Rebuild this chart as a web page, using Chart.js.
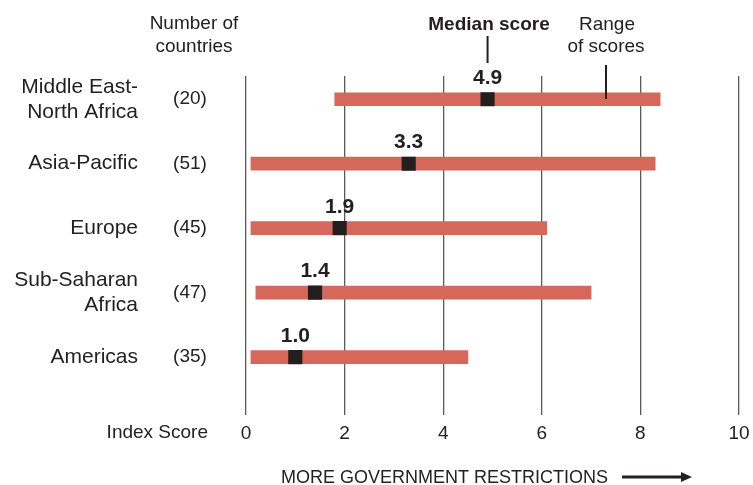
<!DOCTYPE html>
<html>
<head>
<meta charset="utf-8">
<script src="https://cdn.jsdelivr.net/npm/chart.js@4.4.1/dist/chart.umd.min.js"></script>
<style>
  html, body { margin: 0; padding: 0; background: #fff; }
  .chartBox { width: 753px; height: 485px; }
</style>
</head>
<body>
<div class="chartBox">
  <canvas id="myChart"></canvas>
</div>
<script>
// data
const regions = [["Middle East-", "North Africa"], ["Asia-Pacific"], ["Europe"], ["Sub-Saharan", "Africa"], ["Americas"]];
const countries = ["(20)", "(51)", "(45)", "(47)", "(35)"];
const rangeLow = [1.8, 0.1, 0.1, 0.2, 0.1];
const rangeHigh = [8.4, 8.3, 6.1, 7.0, 4.5];
const medians = [4.9, 3.3, 1.9, 1.4, 1.0];
const xTicks = [0, 2, 4, 6, 8, 10];

const FONT = "'Liberation Sans', Arial, sans-serif";
const INK = "#231f20";

// labels, headers and the arrow around the plot
const extras = {
  id: "extras",
  afterDatasetsDraw(chart) {
    const ctx = chart.ctx;
    const x = chart.scales.x;
    const y = chart.scales.y;
    ctx.save();
    ctx.textBaseline = "middle";

    // median values above the squares
    ctx.fillStyle = INK;
    ctx.font = "bold 21px " + FONT;
    ctx.textAlign = "center";
    medians.forEach((m, i) => {
      ctx.fillText(m.toFixed(1), x.getPixelForValue(m), y.getPixelForValue(i) - 21);
    });

    // region names and country counts
    ctx.fillStyle = "#222";
    regions.forEach((lines, i) => {
      const cy = y.getPixelForValue(i);
      ctx.font = "21px " + FONT;
      ctx.textAlign = "right";
      const lh = 25;
      lines.forEach((t, k) => {
        ctx.fillText(t, 138, cy + (k - (lines.length - 1) / 2) * lh);
      });
      ctx.font = "19px " + FONT;
      ctx.textAlign = "center";
      ctx.fillText(countries[i], 190, cy);
    });

    // column headers
    ctx.font = "19px " + FONT;
    ctx.textAlign = "center";
    ctx.fillText("Number of", 194, 24);
    ctx.fillText("countries", 194, 47);
    ctx.fillText("Range", 607, 25);
    ctx.fillText("of scores", 606, 47);
    ctx.font = "bold 19px " + FONT;
    ctx.fillStyle = INK;
    ctx.fillText("Median score", 489, 25);

    ctx.strokeStyle = INK;
    ctx.lineWidth = 2;
    const mx = x.getPixelForValue(medians[0]);
    ctx.beginPath();
    ctx.moveTo(mx, 36); ctx.lineTo(mx, 63);
    ctx.moveTo(606, 65); ctx.lineTo(606, 99);
    ctx.stroke();

    // axis caption
    ctx.fillStyle = "#222";
    ctx.font = "19px " + FONT;
    ctx.textAlign = "right";
    ctx.fillText("Index Score", 208, 433);
    ctx.font = "18px " + FONT;
    ctx.textAlign = "left";
    ctx.fillText("MORE GOVERNMENT RESTRICTIONS", 281, 478);

    ctx.beginPath();
    ctx.moveTo(622, 477); ctx.lineTo(684, 477);
    ctx.lineWidth = 3;
    ctx.stroke();
    ctx.beginPath();
    ctx.moveTo(692, 477); ctx.lineTo(681, 472); ctx.lineTo(681, 482);
    ctx.closePath();
    ctx.fill();
    ctx.restore();
  }
};

const ctx = document.getElementById("myChart").getContext("2d");
const myChart = new Chart(ctx, {
  data: {
    datasets: [
      {
        type: "scatter",
        label: "Median score",
        data: medians.map((m, i) => ({ x: m, y: i })),
        pointStyle: "rect",
        pointRadius: 10,
        pointHoverRadius: 10,
        pointBorderWidth: 0,
        backgroundColor: INK,
        borderColor: INK,
        order: 0,
      },
      {
        type: "bar",
        label: "Range of scores",
        indexAxis: "y",
        data: rangeLow.map((lo, i) => ({ x: [lo, rangeHigh[i]], y: i })),
        backgroundColor: "#d5675b",
        borderWidth: 0,
        borderSkipped: false,
        barThickness: 13,
        grouped: false,
        order: 1,
      },
    ],
  },
  options: {
    responsive: true,
    maintainAspectRatio: false,
    animation: false,
    events: [],
    layout: { padding: { left: 246, right: 14, top: 76, bottom: 33 } },
    plugins: { legend: { display: false }, tooltip: { enabled: false } },
    scales: {
      x: {
        type: "linear",
        min: 0,
        max: 10,
        offset: false,
        afterBuildTicks: (axis) => { axis.ticks = xTicks.map((v) => ({ value: v })); },
        afterFit: (axis) => { axis.paddingLeft = 0; axis.paddingRight = 0; },
        grid: { color: "#5a5a5a", lineWidth: 1.3, drawTicks: false, offset: false },
        border: { display: false },
        ticks: { padding: 7, color: "#222", font: { family: FONT, size: 19 } },
      },
      y: {
        type: "linear",
        reverse: true,
        min: -0.36,
        max: 4.9,
        offset: false,
        display: false,
      },
    },
  },
  plugins: [extras],
});
</script>
</body>
</html>
